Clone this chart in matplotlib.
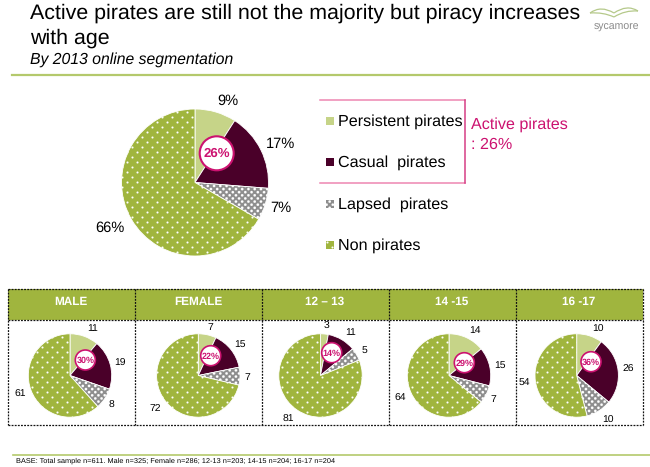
import matplotlib
matplotlib.use("Agg")
import numpy as np
import matplotlib.pyplot as plt
import matplotlib.hatch as mhatch
from matplotlib.patches import Circle, Rectangle, PathPatch
from matplotlib.path import Path

plt.rcParams['font.family'] = ['Liberation Sans', 'DejaVu Sans']
plt.rcParams['hatch.linewidth'] = 0.1
plt.rcParams['text.hinting'] = 'none'

W, H = 650, 467

segments = ["Persistent pirates", "Casual  pirates", "Lapsed  pirates", "Non pirates"]
overall_values = [9, 17, 7, 66]
overall_active = "26%"
group_names = ["MALE", "FEMALE", "12 – 13", "14 -15", "16 -17"]
persistent = [11, 7, 3, 14, 10]
casual = [19, 15, 11, 15, 26]
lapsed = [8, 7, 5, 7, 10]
non_pirates = [61, 72, 81, 64, 54]
active = ["30%", "22%", "14%", "29%", "36%"]

GREEN = '#a0b53e'
LIGHT = '#c6d488'
DARK = '#4a0029'
GREY = '#8e8e8e'
PINK = '#cc1270'
colors = [LIGHT, DARK, GREY, GREEN]
hatches = [None, None, 'O', '*']


class StaggeredDots(mhatch.HatchPatternBase):
    """Filled dots on a staggered lattice: `cols` per row, 2*cols rows per tile."""
    char = ''
    cols = 10
    radius = 0.01

    def __init__(self, hatch, density):
        self.active = hatch.count(self.char) > 0
        self.circle = Path.unit_circle()
        self.points = []
        if self.active:
            rows = 2 * self.cols
            for r in range(rows):
                for c in range(self.cols):
                    self.points.append(((c + (0.5 if r % 2 else 0.0) + 0.25) / self.cols, (r + 0.5) / rows))
        self.num_vertices = len(self.points) * len(self.circle.vertices)

    def set_vertices_and_codes(self, vertices, codes):
        n = len(self.circle.vertices)
        for i, (x, y) in enumerate(self.points):
            vertices[i * n:(i + 1) * n] = self.circle.vertices * self.radius + np.array([x, y])
            codes[i * n:(i + 1) * n] = self.circle.codes


class GreenDots(StaggeredDots):
    char = '*'
    cols = 10
    radius = 0.0095


class GreyDots(StaggeredDots):
    char = 'O'
    cols = 16
    radius = 0.0125


mhatch._hatch_types[:] = [GreenDots, GreyDots]

fig = plt.figure(figsize=(W / 100, H / 100), dpi=100, facecolor='white')
ov = fig.add_axes([0, 0, 1, 1], zorder=5)
ov.set_xlim(0, W)
ov.set_ylim(H, 0)
ov.axis('off')
ov.patch.set_alpha(0)


def draw_pie(values, cx, cy, r):
    ax = fig.add_axes([(cx - r) / W, 1 - (cy + r) / H, 2 * r / W, 2 * r / H], zorder=2)
    wedges, _ = ax.pie(values, startangle=90, counterclock=False, colors=colors, radius=1,
                       wedgeprops=dict(edgecolor='white', linewidth=0.6))
    for w, h in zip(wedges, hatches):
        if h:
            w.set_hatch(h)
    ax.set_xlim(-1, 1)
    ax.set_ylim(-1, 1)
    ax.set_aspect('equal')


def badge(x, y, r, txt, fs, lw):
    ov.add_patch(Circle((x, y), r, facecolor='white', edgecolor=PINK, linewidth=lw, zorder=6))
    ov.text(x, y + 0.5, txt, color=PINK, fontsize=fs, fontweight='bold', ha='center', va='center', zorder=7)


# Title block
ov.text(30, 13, "Active pirates are still not the majority but piracy increases", fontsize=15.4,
        ha='left', va='center', color='black')
ov.text(30, 38, "with age", fontsize=15.4, ha='left', va='center', color='black')
ov.text(30, 60, "By 2013 online segmentation", fontsize=11.3, style='italic', ha='left', va='center')
ov.plot([12, W], [75, 75], color='#b4c96c', lw=1.6)

# Logo
logo_curves = [((590, 13), (601, 5), (614, 13)), ((590, 13), (603, 12), (614, 17)),
               ((614, 13), (627, 4), (638, 11)), ((614, 17), (625, 10), (638, 11))]
for p0, p1, p2 in logo_curves:
    ov.add_patch(PathPatch(Path([p0, p1, p2], [Path.MOVETO, Path.CURVE3, Path.CURVE3]),
                           fill=False, edgecolor='#b5c98a', lw=0.9))
ov.text(616, 27, "sycamore", fontsize=7.6, color='#8a8a8a', ha='center', va='center')

# Overall pie
draw_pie(overall_values, 195, 182.5, 73.5)
main_label_pos = [(228, 101), (281, 144), (281, 208), (110, 228)]
for v, (x, y) in zip(overall_values, main_label_pos):
    ov.text(x, y, f"{v}%", fontsize=10.5, ha='center', va='center')
badge(216.7, 153.3, 17, overall_active, 9.5, 1.5)

# Legend
legend_y = [121, 162, 204, 245]
for name, col, h, y in zip(segments, colors, hatches, legend_y):
    ov.add_patch(Rectangle((326, y - 3.75), 7.5, 7.5, facecolor=col, edgecolor='white' if h else 'none',
                           linewidth=0, hatch=h))
    ov.text(338, y + 0.5, name, fontsize=11.6, ha='left', va='center')

# Active bracket
ov.plot([320, 465], [100, 100], color='#ee86b2', lw=1.1)
ov.plot([320, 465], [183, 183], color='#ee86b2', lw=1.1)
ov.plot([465, 465], [100, 183], color='#d63f85', lw=1.1)
ov.text(471, 125, "Active pirates", color=PINK, fontsize=11.6, ha='left', va='center')
ov.text(471, 145, ": 26%", color=PINK, fontsize=11.6, ha='left', va='center')

# Table
dividers = [7.5, 134.5, 261.5, 388.5, 515.5, 642.5]
ov.add_patch(Rectangle((7.5, 289), 635, 30.5, facecolor=GREEN, edgecolor='none', zorder=1))
dash = dict(color='#111111', lw=0.9, linestyle=(0, (1.5, 1)), zorder=3)
for x in dividers:
    ov.plot([x, x], [289, 424.5], **dash)
for y in [289, 319.5, 424.5]:
    ov.plot([7.5, 642.5], [y, y], **dash)
for i, name in enumerate(group_names):
    ov.text((dividers[i] + dividers[i + 1]) / 2, 301.5, name, color='white', fontsize=8.5,
            fontweight='bold', ha='center', va='center')

centers = [(70, 375.5), (198.3, 375.5), (320.5, 375.5), (449, 375.5), (576.7, 375.5)]
badge_pos = [(85.3, 360), (210.7, 355.7), (331.7, 352.7), (464.3, 362.7), (591, 361.7)]
label_pos = [
    [(93, 328), (120, 363), (111, 405), (20, 394)],
    [(210, 327), (240, 344), (247, 377), (155, 408)],
    [(326, 326), (351, 332), (364, 350), (288, 419)],
    [(475, 330), (499.7, 365), (493, 399), (400.6, 398)],
    [(598, 329), (628, 369.7), (608, 420), (524.6, 382)],
]
for i in range(5):
    vals = [persistent[i], casual[i], lapsed[i], non_pirates[i]]
    draw_pie(vals, centers[i][0], centers[i][1], 41.7)
    for v, (x, y) in zip(vals, label_pos[i]):
        ov.text(x, y, str(v), fontsize=7.5, ha='center', va='center')
    badge(badge_pos[i][0], badge_pos[i][1], 10, active[i], 6.5, 1.2)

# Footer
ov.plot([13, W], [455, 455], color='#b4c96c', lw=1.2)
ov.text(16, 461, "BASE: Total sample n=611. Male n=325; Female n=286; 12-13 n=203; 14-15 n=204; 16-17 n=204",
        fontsize=5.3, ha='left', va='center')

fig.savefig('out.png', dpi=100)
